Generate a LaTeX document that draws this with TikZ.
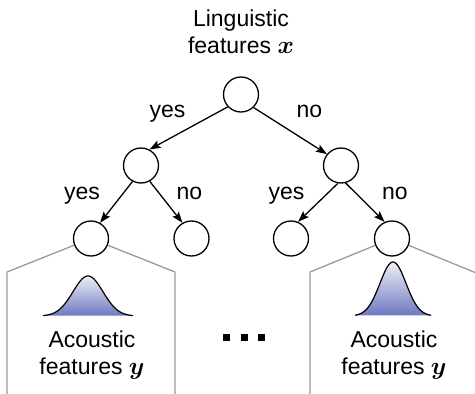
\documentclass[tikz,border=0pt]{standalone}
\usepackage{bm}
\usepackage{fontspec}
\setmainfont{Liberation Sans}
\usetikzlibrary{arrows.meta,backgrounds}
\definecolor{gaussblue}{HTML}{6E79C0}
\definecolor{gausstop}{HTML}{EEEFF7}
\begin{document}
\begin{tikzpicture}[x=1pt,y=-1pt,
  treenode/.style={circle,draw=black,line width=1.3pt,fill=white,minimum size=35pt,inner sep=0pt},
  branch/.style={line width=1.3pt,-{Stealth[length=11pt,width=8pt,inset=2pt]}},
  answer/.style={font=\fontsize{23}{27}\selectfont,anchor=base,inner sep=0pt},
  caption/.style={font=\fontsize{23}{27}\selectfont,align=center,inner sep=0pt},
  leafbox/.style={draw=black!40,line width=1.3pt,line join=miter},
  density/.style={line width=1.2pt,draw=black},
  dotmark/.style={fill=black}]
\useasboundingbox (0,0) rectangle (475,394);

% decision tree
\node[treenode] (root) at (241,94.5) {};
\node[treenode] (nl) at (141,165.5) {};
\node[treenode] (nr) at (341,165.5) {};
\node[treenode] (l1) at (91,238.5) {};
\node[treenode] (l2) at (191.5,238.5) {};
\node[treenode] (l3) at (291,238.5) {};
\node[treenode] (l4) at (392,238.5) {};

\node[caption] (input) at (241,31.3) {Linguistic\\features $\bm{x}$};

\draw[branch] (root.223) -- (nl.62);
\draw[branch] (root.-46) -- (nr.141);
\draw[branch] (nl.242) -- (l1.60);
\draw[branch] (nl.299) -- (l2.120);
\draw[branch] (nr.260) -- (l3.67);
\draw[branch] (nr.285) -- (l4.114);

\node[answer] (ya) at (167.5,117.5) {yes};
\node[answer] (na) at (309.5,117.5) {no};
\node[answer] (yb) at (82,199) {yes};
\node[answer] (nb) at (189.5,199) {no};
\node[answer] (yc) at (286.5,199) {yes};
\node[answer] (nc) at (395,199) {no};

% leaf panels behind the leaf nodes
\begin{scope}[on background layer]
  \draw[leafbox] (7,400) -- (7,272) -- (l1.center) -- (175,272) -- (175,400);
  \draw[leafbox] (310,400) -- (310,272) -- (l4.center) -- (480,274.5) -- (480,400);
\end{scope}

% output densities
\shade[top color=gausstop,bottom color=gaussblue]
  plot[domain=43:133,samples=80] (\x,{316-40*exp(-((\x-88)^2)/450)}) -- cycle;
\draw[density] plot[domain=43:133,samples=80] (\x,{316-40*exp(-((\x-88)^2)/450)});
\shade[top color=gausstop,bottom color=gaussblue]
  plot[domain=355:431,samples=80] (\x,{316-54*exp(-((\x-393)^2)/338)}) -- cycle;
\draw[density] plot[domain=355:431,samples=80] (\x,{316-54*exp(-((\x-393)^2)/338)});

\node[caption] (outl) at (92,355.5) {Acoustic\\features $\bm{y}$};
\node[caption] (outr) at (394,355.5) {Acoustic\\features $\bm{y}$};

% ellipsis between the panels
\fill[dotmark] (223,334) rectangle ++(7,7);
\fill[dotmark] (241,334) rectangle ++(7,7);
\fill[dotmark] (258,334) rectangle ++(7,7);
\end{tikzpicture}
\end{document}
